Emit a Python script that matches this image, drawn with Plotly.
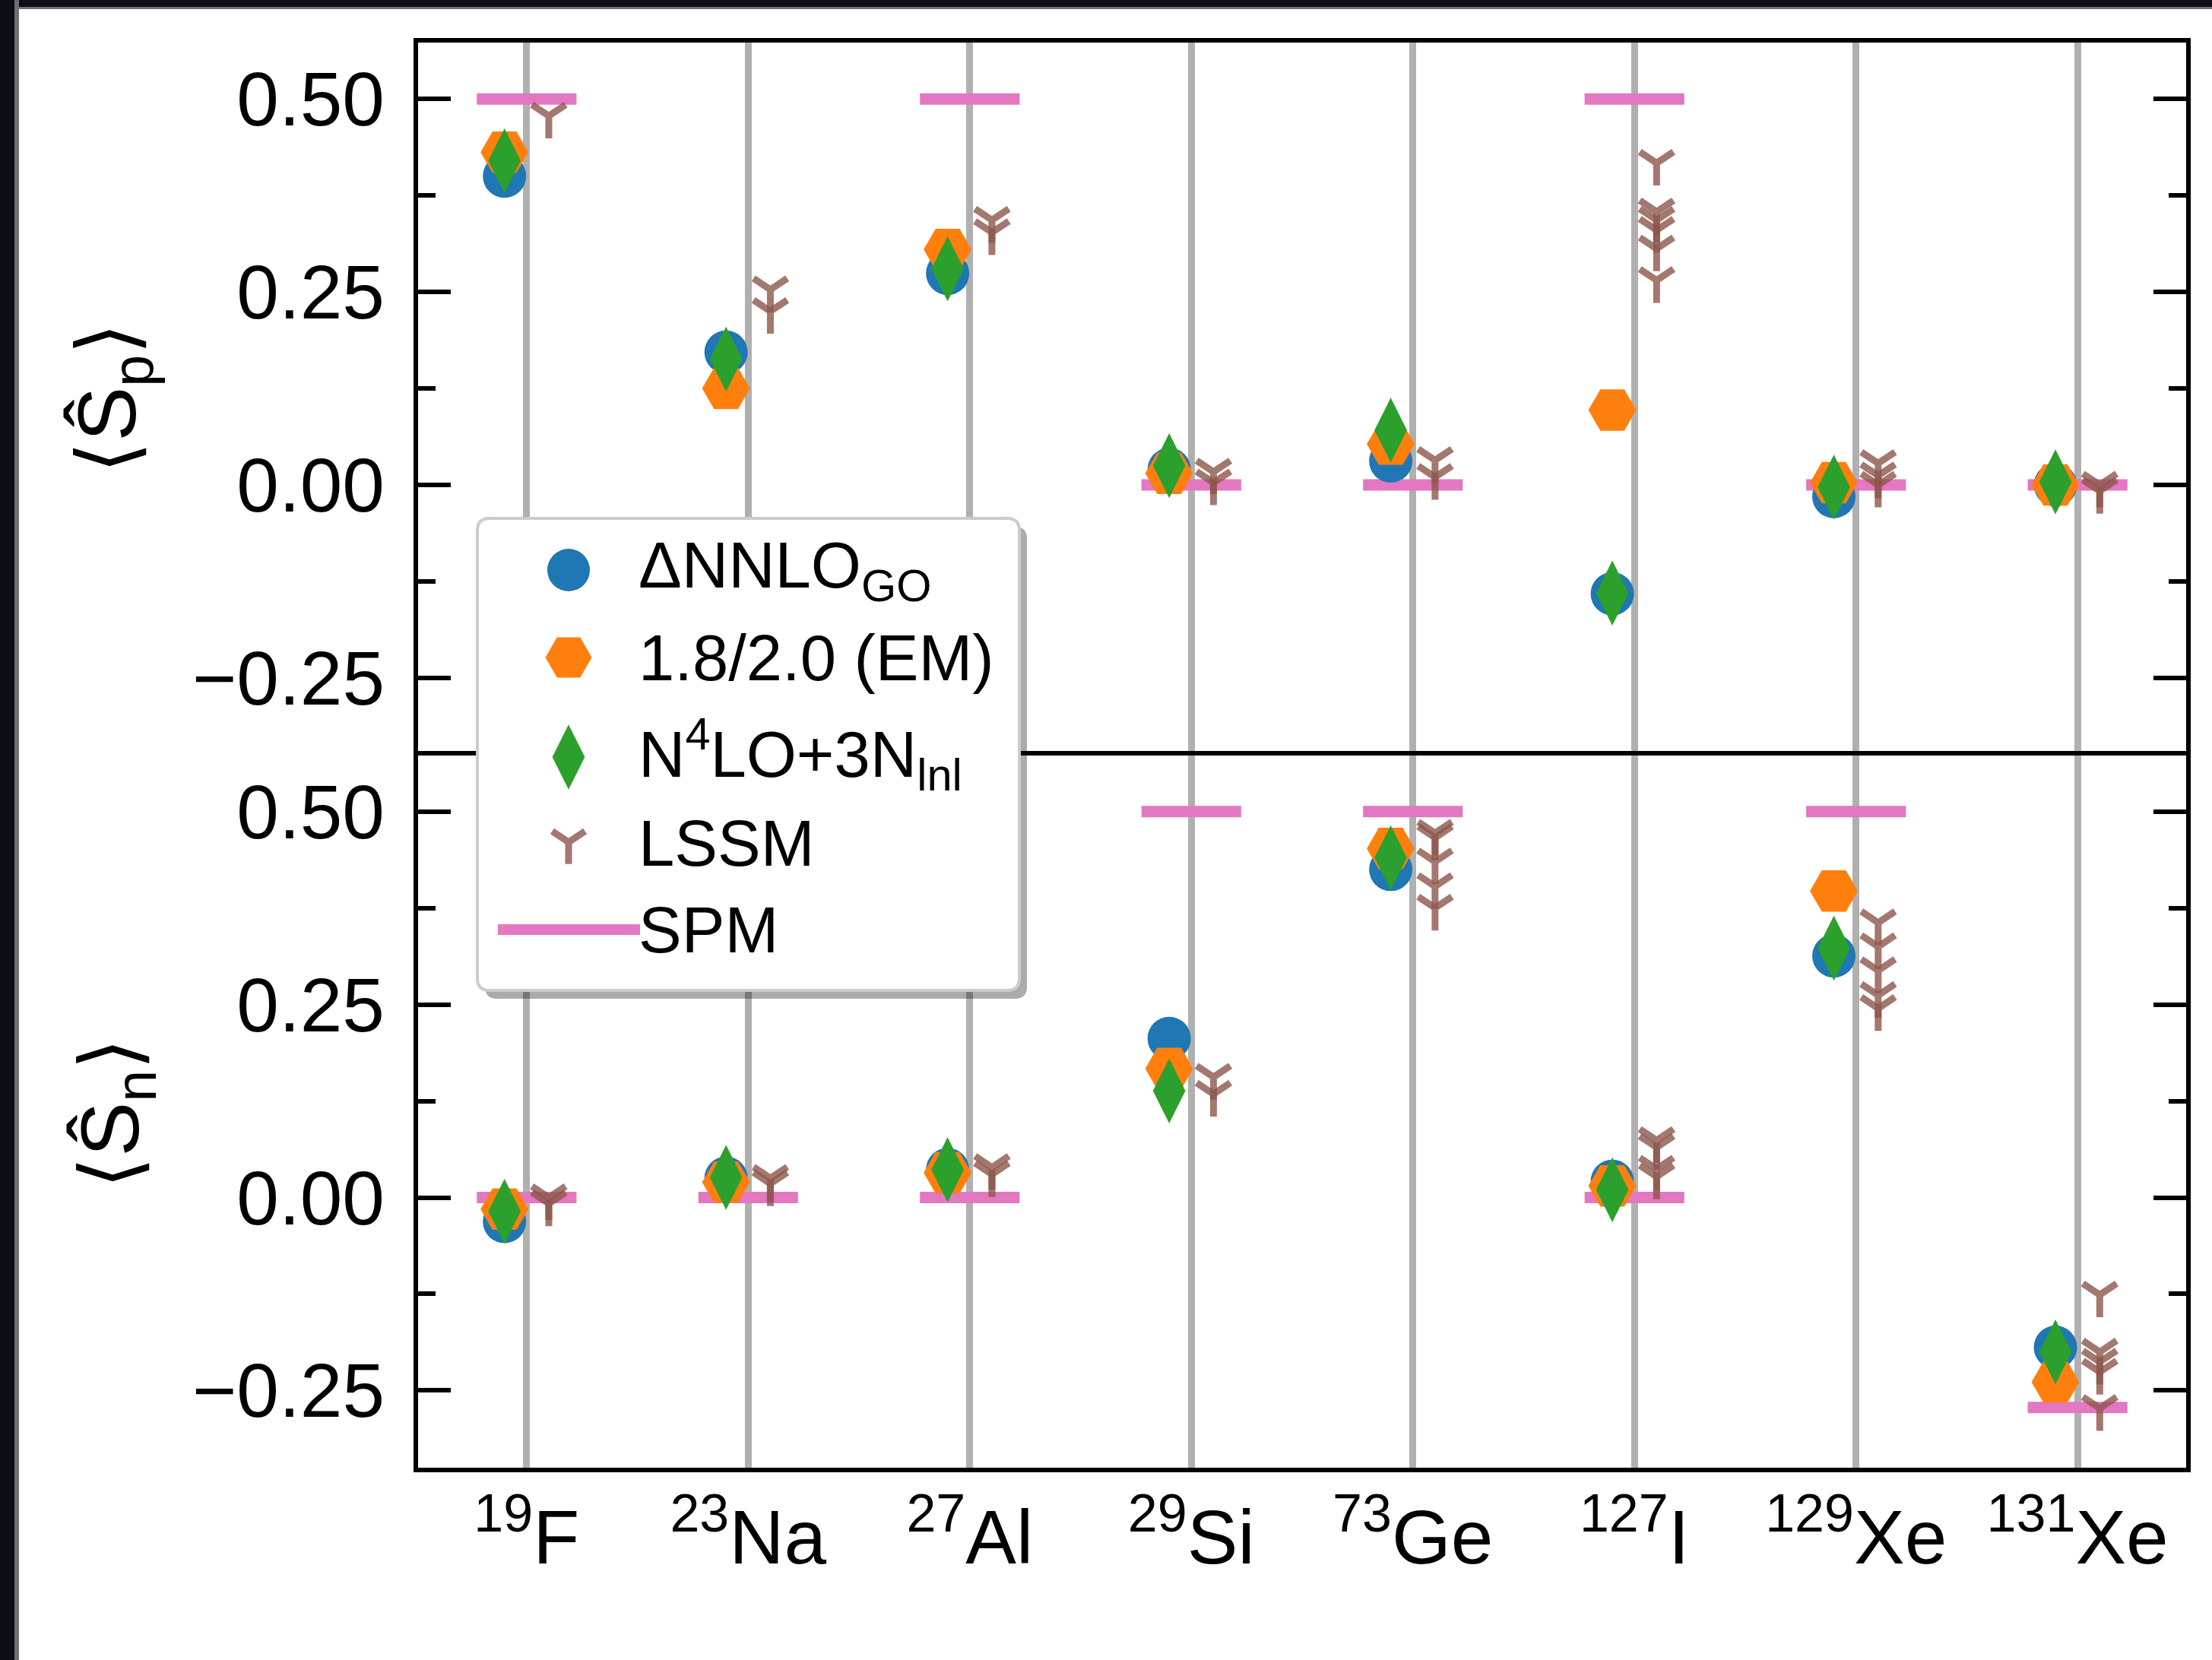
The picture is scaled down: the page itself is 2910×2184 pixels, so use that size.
import plotly.graph_objects as go

# ---------------- data ----------------
nuclei = ["19F", "23Na", "27Al", "29Si", "73Ge", "127I", "129Xe", "131Xe"]
tick_labels = ["<sup>19</sup>F", "<sup>23</sup>Na", "<sup>27</sup>Al", "<sup>29</sup>Si",
               "<sup>73</sup>Ge", "<sup>127</sup>I", "<sup>129</sup>Xe", "<sup>131</sup>Xe"]

# proton spin expectation values <S_p>
sp_dnnlo = [0.400, 0.172, 0.274, 0.020, 0.031, -0.141, -0.015, 0.000]
sp_em = [0.431, 0.125, 0.305, 0.015, 0.053, 0.097, 0.003, 0.000]
sp_n4lo = [0.420, 0.163, 0.280, 0.025, 0.071, -0.140, -0.003, 0.004]
sp_lssm = [[0.478], [0.253, 0.225], [0.343, 0.327], [0.017, 0.003], [0.032, 0.010],
           [0.417, 0.354, 0.343, 0.330, 0.306, 0.265], [0.028, 0.012, 0.000], [0.000, -0.008]]
sp_spm = [0.5, None, 0.5, 0.0, 0.0, 0.5, 0.0, 0.0]   # no SPM value shown for 23Na

# neutron spin expectation values <S_n>
sn_dnnlo = [-0.031, 0.025, 0.036, 0.206, 0.425, 0.021, 0.313, -0.194]
sn_em = [-0.015, 0.020, 0.032, 0.167, 0.452, 0.015, 0.397, -0.239]
sn_n4lo = [-0.018, 0.026, 0.036, 0.138, 0.440, 0.010, 0.323, -0.200]
sn_lssm = [[0.000, -0.008], [0.025, 0.018], [0.039, 0.030], [0.156, 0.134],
           [0.472, 0.466, 0.435, 0.403, 0.375], [0.074, 0.065, 0.037, 0.027],
           [0.356, 0.325, 0.294, 0.262, 0.245], [-0.126, -0.200, -0.213, -0.226, -0.273]]
sn_spm = [0.0, 0.0, 0.0, 0.5, 0.5, 0.0, 0.5, -0.272]

series_names = ["ΔNNLO<sub>GO</sub>", "1.8/2.0 (EM)", "N<sup>4</sup>LO+3N<sub>lnl</sub>", "LSSM", "SPM"]

# ---------------- styling ----------------
W, H = 2910, 2184
ML, MR, MT, MB = 550, 34, 56, 253
PW, PH = W - ML - MR, H - MT - MB
FONT = "Liberation Sans, Arial, DejaVu Sans, sans-serif"
C_BLUE, C_ORANGE, C_GREEN = "#1f77b4", "#ff7f0e", "#2ca02c"
C_LSSM = "rgba(140,86,75,0.8)"
C_SPM = "#e377c2"
OFF = 0.1
HALF = 0.225

def px_x(p):
    return (p - ML) / PW

def px_y(p):
    return (MT + PH - p) / PH

fig = go.Figure()
idx = list(range(len(nuclei)))

def add_panel(xa, ya, dnnlo, em, n4lo, lssm, spm):
    sx, sy = [], []
    for i, v in zip(idx, spm):
        if v is None:
            continue
        sx += [i - HALF, i + HALF, None]
        sy += [v, v, None]
    fig.add_trace(go.Scatter(x=sx, y=sy, mode="lines", xaxis=xa, yaxis=ya,
                             line=dict(color=C_SPM, width=15), showlegend=False, hoverinfo="skip"))
    xo = [i - OFF for i in idx]
    fig.add_trace(go.Scatter(x=xo, y=dnnlo, mode="markers", xaxis=xa, yaxis=ya, showlegend=False,
                             marker=dict(symbol="circle", size=57, color=C_BLUE, line=dict(width=0))))
    fig.add_trace(go.Scatter(x=xo, y=em, mode="markers", xaxis=xa, yaxis=ya, showlegend=False,
                             marker=dict(symbol="hexagon2", size=63, color=C_ORANGE, line=dict(width=0))))
    fig.add_trace(go.Scatter(x=xo, y=n4lo, mode="markers", xaxis=xa, yaxis=ya, showlegend=False,
                             marker=dict(symbol="diamond-tall", size=61, color=C_GREEN, line=dict(width=0))))
    lx, ly = [], []
    for i, vals in zip(idx, lssm):
        for v in vals:
            lx.append(i + OFF)
            ly.append(v)
    fig.add_trace(go.Scatter(x=lx, y=ly, mode="markers", xaxis=xa, yaxis=ya, showlegend=False,
                             marker=dict(symbol="y-down", size=37, color=C_LSSM,
                                         line=dict(color=C_LSSM, width=9))))

add_panel("x", "y", sp_dnnlo, sp_em, sp_n4lo, sp_lssm, sp_spm)
add_panel("x2", "y2", sn_dnnlo, sn_em, sn_n4lo, sn_lssm, sn_spm)

# ---------------- manual legend (keys on a hidden overlay axis) ----------------
leg_key_x = px_x(748)
leg_rows = [px_y(750), px_y(865), px_y(996), px_y(1108), px_y(1223)]
fig.add_trace(go.Scatter(x=[leg_key_x], y=[leg_rows[0]], mode="markers", xaxis="x3", yaxis="y3",
                         showlegend=False, hoverinfo="skip", cliponaxis=False,
                         marker=dict(symbol="circle", size=56, color=C_BLUE)))
fig.add_trace(go.Scatter(x=[leg_key_x], y=[leg_rows[1]], mode="markers", xaxis="x3", yaxis="y3",
                         showlegend=False, hoverinfo="skip", cliponaxis=False,
                         marker=dict(symbol="hexagon2", size=61, color=C_ORANGE)))
fig.add_trace(go.Scatter(x=[leg_key_x], y=[leg_rows[2]], mode="markers", xaxis="x3", yaxis="y3",
                         showlegend=False, hoverinfo="skip", cliponaxis=False,
                         marker=dict(symbol="diamond-tall", size=61, color=C_GREEN)))
fig.add_trace(go.Scatter(x=[leg_key_x], y=[leg_rows[3]], mode="markers", xaxis="x3", yaxis="y3",
                         showlegend=False, hoverinfo="skip", cliponaxis=False,
                         marker=dict(symbol="y-down", size=36, color=C_LSSM,
                                     line=dict(color=C_LSSM, width=9))))
fig.add_trace(go.Scatter(x=[px_x(655), px_x(842)], y=[leg_rows[4], leg_rows[4]], mode="lines",
                         xaxis="x3", yaxis="y3", showlegend=False, hoverinfo="skip", cliponaxis=False,
                         line=dict(color=C_SPM, width=14)))

def rounded_path(l, t, r, b, rad):
    x0, x1 = px_x(l), px_x(r)
    y0, y1 = px_y(b), px_y(t)
    rx, ry = rad / PW, rad / PH
    return (f"M{x0+rx},{y1} L{x1-rx},{y1} Q{x1},{y1} {x1},{y1-ry} "
            f"L{x1},{y0+ry} Q{x1},{y0} {x1-rx},{y0} L{x0+rx},{y0} Q{x0},{y0} {x0},{y0+ry} "
            f"L{x0},{y1-ry} Q{x0},{y1} {x0+rx},{y1} Z")

shapes = [
    dict(type="path", xref="x3", yref="y3", layer="below",
         path=rounded_path(638, 693, 1351, 1314, 16),
         fillcolor="rgba(0,0,0,0.33)", line=dict(width=0)),
    dict(type="path", xref="x3", yref="y3", layer="below",
         path=rounded_path(628, 682, 1341, 1303, 16),
         fillcolor="white", line=dict(color="#cccccc", width=4)),
    # screenshot frame (dark band on top and left)
    dict(type="rect", xref="paper", yref="paper", x0=px_x(0), x1=px_x(W), y0=px_y(12), y1=px_y(0),
         fillcolor="#707070", line=dict(width=0), layer="above"),
    dict(type="rect", xref="paper", yref="paper", x0=px_x(0), x1=px_x(W), y0=px_y(9), y1=px_y(0),
         fillcolor="#0c0d16", line=dict(width=0), layer="above"),
    dict(type="rect", xref="paper", yref="paper", x0=px_x(0), x1=px_x(25), y0=px_y(H), y1=px_y(0),
         fillcolor="#707070", line=dict(width=0), layer="above"),
    dict(type="rect", xref="paper", yref="paper", x0=px_x(0), x1=px_x(19), y0=px_y(H), y1=px_y(0),
         fillcolor="#0c0d16", line=dict(width=0), layer="above"),
]

annotations = []
for name, yy in zip(series_names, [750, 865, 992, 1109, 1223]):
    annotations.append(dict(text=name, x=px_x(838), y=px_y(yy), xref="paper", yref="paper",
                            xanchor="left", yanchor="middle", showarrow=False,
                            font=dict(size=85, color="black", family=FONT)))
annotations.append(dict(text="⟨Ŝ<sub>p</sub>⟩", x=px_x(148), y=px_y(524), xref="paper", yref="paper",
                        textangle=-90, showarrow=False, xanchor="center", yanchor="middle",
                        font=dict(size=108, color="black", family=FONT)))
annotations.append(dict(text="⟨Ŝ<sub>n</sub>⟩", x=px_x(152), y=px_y(1465), xref="paper", yref="paper",
                        textangle=-90, showarrow=False, xanchor="center", yanchor="middle",
                        font=dict(size=108, color="black", family=FONT)))

yr = [-0.35, 0.573]
xr = [-0.49, 7.49]
yaxis_common = dict(range=yr, autorange=False, tickvals=[-0.25, 0.0, 0.25, 0.5], tickformat=".2f",
                    ticks="inside", ticklen=43, tickwidth=6, tickcolor="black",
                    showline=True, linewidth=6, linecolor="black", mirror="ticks",
                    showgrid=False, zeroline=False, ticklabelstandoff=18,
                    tickfont=dict(size=100, color="black", family=FONT),
                    minor=dict(tickvals=[-0.125, 0.125, 0.375], ticks="inside", ticklen=23,
                               tickwidth=6, tickcolor="black", showgrid=False))
xaxis_common = dict(range=xr, autorange=False, tickvals=idx, ticktext=tick_labels, ticks="",
                    showgrid=True, gridcolor="#b0b0b0", gridwidth=9,
                    showline=True, linewidth=6, linecolor="black", zeroline=False,
                    tickfont=dict(size=100, color="black", family=FONT))

fig.update_layout(
    width=W, height=H,
    margin=dict(l=ML, r=MR, t=MT, b=MB, pad=0),
    paper_bgcolor="white", plot_bgcolor="rgba(0,0,0,0)",
    font=dict(family=FONT, color="black"),
    showlegend=False,
    # top panel: only its top border is drawn (the shared middle line comes from the lower panel)
    xaxis=dict(domain=[0, 1], anchor="y", matches="x2", side="top", showticklabels=False,
               mirror=False, **xaxis_common),
    yaxis=dict(domain=[0.5, 1], anchor="x", **yaxis_common),
    xaxis2=dict(domain=[0, 1], anchor="y2", mirror=True, **xaxis_common),
    yaxis2=dict(domain=[0, 0.5], anchor="x2", **yaxis_common),
    xaxis3=dict(domain=[0, 1], anchor="y3", range=[0, 1], autorange=False, visible=False),
    yaxis3=dict(domain=[0, 1], anchor="x3", range=[0, 1], autorange=False, visible=False),
    shapes=shapes,
    annotations=annotations,
)

fig.write_html("out.html")
